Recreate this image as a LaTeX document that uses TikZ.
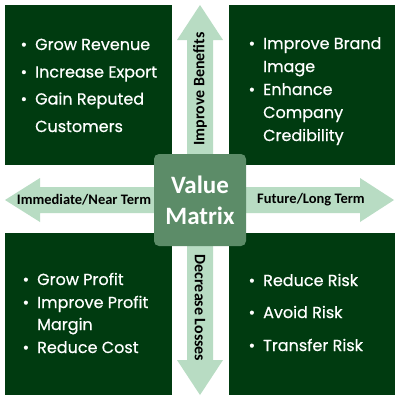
\documentclass[tikz,border=0pt]{standalone}
\usepackage{fontspec}
\setmainfont{Poppins}[FakeBold=0.6]
\newfontfamily\carlito{Carlito}
\definecolor{darkgr}{HTML}{003B10}
\definecolor{lightgr}{HTML}{B8DCC3}
\definecolor{midgr}{HTML}{5C8C68}
\begin{document}
\begin{tikzpicture}[x=1pt,y=-1pt,
  quad/.style={fill=darkgr,draw=none},
  arrowshape/.style={fill=lightgr,draw=none},
  item/.style={anchor=base west,inner sep=0pt,text=white,font=\fontsize{16}{16}\selectfont},
  albl/.style={inner sep=0pt,text=black,font=\carlito\bfseries\fontsize{14.5}{14.5}\selectfont},
  vlbl/.style={inner sep=0pt,text=black,font=\carlito\bfseries\fontsize{16}{16}\selectfont}]
\useasboundingbox (0,0) rectangle (400,400);
\fill[white] (0,0) rectangle (400,400);
% quadrants
\path[quad] (5,5) rectangle (172,165);
\path[quad] (229,5) rectangle (395,165);
\path[quad] (5,233) rectangle (172,395);
\path[quad] (229,233) rectangle (395,395);
% arrows
\path[arrowshape] (5,200) -- (40,178) -- (40,187) -- (360,187) -- (360,178) -- (394,200)
   -- (360,222) -- (360,213) -- (40,213) -- (40,222) -- cycle;
\path[arrowshape] (200,5) -- (223,40) -- (213,40) -- (213,360) -- (223,360) -- (200,395)
   -- (177,360) -- (187,360) -- (187,40) -- (177,40) -- cycle;
% arrow labels
\node[albl] (near) at (84,200) {Immediate/Near Term};
\node[albl] (far) at (311,200) {Future/Long Term};
\node[vlbl,rotate=90] (benef) at (200,89) {Improve Benefits};
\node[vlbl,rotate=-90] (loss) at (200,308) {Decrease Losses};
% center
\node[fill=midgr,rounded corners=5pt,minimum width=92pt,minimum height=92pt,inner sep=0pt,
  align=center,text=white,font=\carlito\bfseries\fontsize{25}{31}\selectfont] (vm) at (200,200) {Value\\Matrix};
% top-left
\node[item] (a1) at (35,50) {\llap{•\hspace{8pt}}Grow Revenue};
\node[item] (a2) at (35,77.5) {\llap{•\hspace{8pt}}Increase Export};
\node[item] (a3) at (35,104.5) {\llap{•\hspace{8pt}}Gain Reputed};
\node[item] (a4) at (35,132) {Customers};
% top-right
\node[item] (b1) at (263,49) {\llap{•\hspace{8pt}}Improve Brand};
\node[item] (b2) at (263,72) {Image};
\node[item] (b3) at (263,95) {\llap{•\hspace{8pt}}Enhance};
\node[item] (b4) at (263,118) {Company};
\node[item] (b5) at (263,141) {Credibility};
% bottom-left
\node[item] (c1) at (37,285) {\llap{•\hspace{8pt}}Grow Profit};
\node[item] (c2) at (37,308) {\llap{•\hspace{8pt}}Improve Profit};
\node[item] (c3) at (37,330) {Margin};
\node[item] (c4) at (37,353) {\llap{•\hspace{8pt}}Reduce Cost};
% bottom-right
\node[item] (d1) at (263,286) {\llap{•\hspace{8pt}}Reduce Risk};
\node[item] (d2) at (263,318) {\llap{•\hspace{8pt}}Avoid Risk};
\node[item] (d3) at (263,351) {\llap{•\hspace{8pt}}Transfer Risk};
\end{tikzpicture}
\end{document}
